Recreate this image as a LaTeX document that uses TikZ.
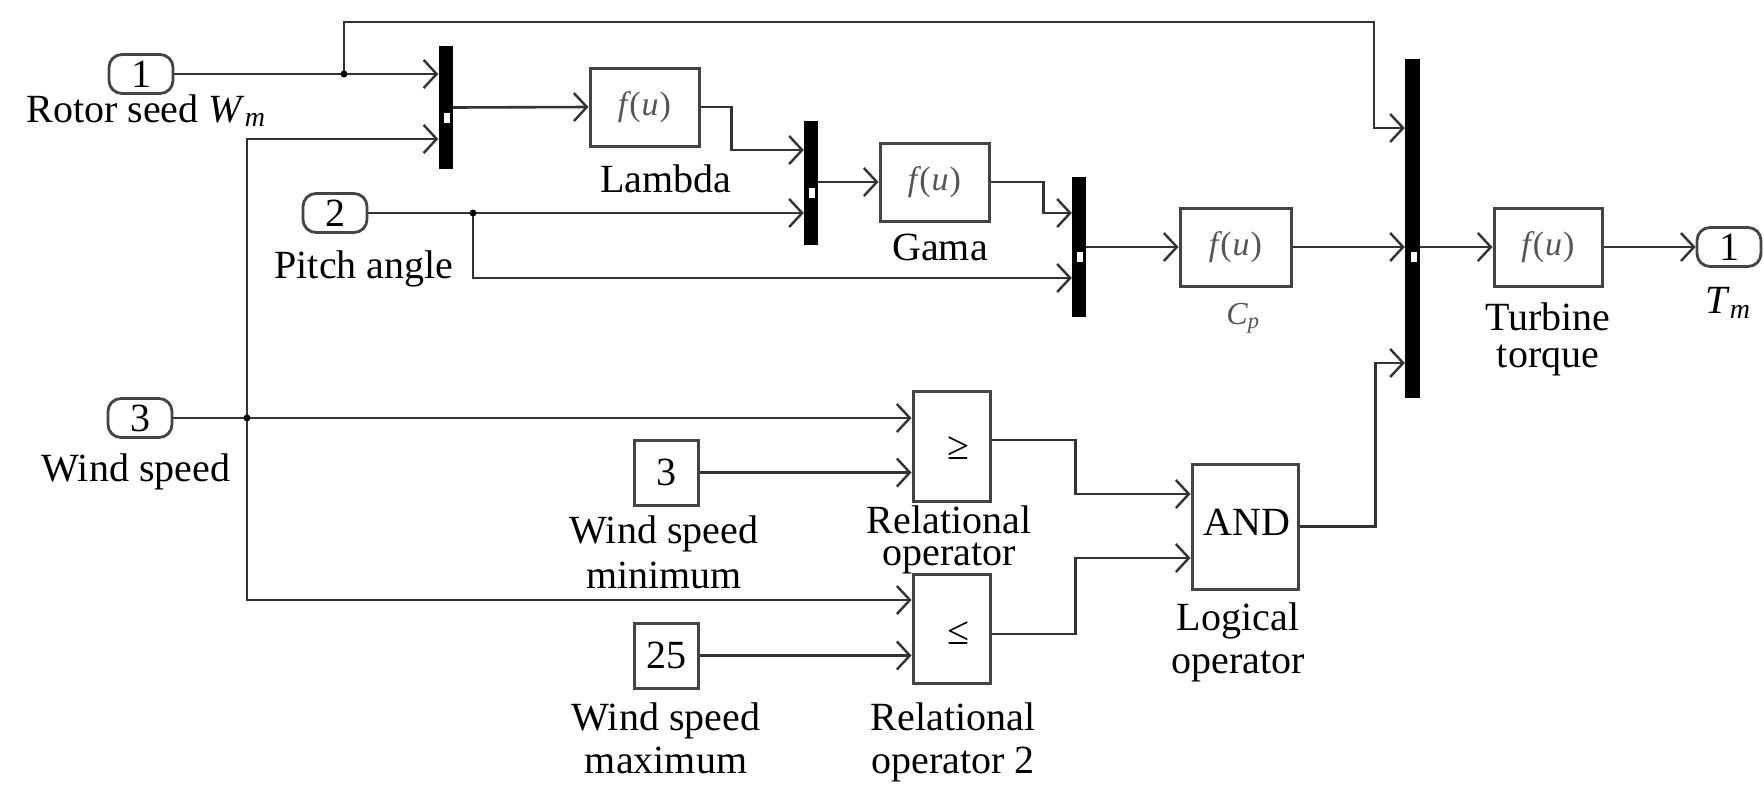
\documentclass[tikz,border=0pt]{standalone}
\usepackage{fontspec}
\setmainfont{Liberation Serif}
\usetikzlibrary{arrows.meta}
\definecolor{ln}{HTML}{333333}
\definecolor{bx}{HTML}{444444}
\definecolor{fu}{HTML}{555555}
\newcommand\lblfont{\rmfamily\fontsize{40}{43}\selectfont}
\newcommand\fufont{\rmfamily\fontsize{34}{36}\selectfont}
\newcommand\cpfont{\rmfamily\fontsize{32}{34}\selectfont}
\newcommand\fuval{\textit{f\kern2pt}(\kern1pt\textit{u}\kern1pt)}
\newcommand\ssub[2]{\textit{#1}\textsubscript{\textit{#2}}}
\begin{document}
\begin{tikzpicture}[x=1pt,y=-1pt,
  wire/.style={draw=ln, line width=2.6pt},
  arr/.style={wire, -{Straight Barb[length=13pt,width=28pt,line width=2.4pt]}},
  port/.style={draw=bx, line width=2.8pt, rounded corners=13pt, minimum width=64pt, minimum height=39pt, inner sep=0pt, font=\lblfont},
  blk/.style={draw=bx, line width=3pt, inner sep=0pt, fill=white},
  fblk/.style={blk, minimum width=109pt, minimum height=78pt, font=\fufont, text=fu},
  muxbar/.style={fill=black, draw=none, minimum width=14pt, inner sep=0pt},
  lbl/.style={anchor=base, inner sep=0pt, font=\lblfont},
  dot/.style={fill=black}]
\fill[white] (0,0) rectangle (1764,785);
\useasboundingbox (0,0) rectangle (1764,785);

% ports
\node[port] (in1) at (141,74) {1};
\node[port] (in2) at (335,213) {2};
\node[port] (in3) at (140,418) {3};
\node[port] (out1) at (1729,247) {1};

% mux bars
\node[muxbar, minimum height=123pt] (mux1) at (445.5,107.5) {};
\node[muxbar, minimum height=124pt] (mux2) at (811,183) {};
\node[muxbar, minimum height=140pt] (mux3) at (1079,247) {};
\node[muxbar, minimum height=339pt, minimum width=15pt] (mux4) at (1412.5,228.5) {};

% function blocks
\node[fblk] (lam) at (644.5,107) {\fuval};
\node[fblk] (gam) at (934.5,182) {\fuval};
\node[fblk, minimum width=111pt] (cp) at (1235.5,247) {\fuval};
\node[fblk, minimum width=108pt] (tt) at (1548,247) {\fuval};

% constants, relational and logical operators
\node[blk, minimum width=64pt, minimum height=65pt, font=\lblfont] (c3) at (666,472.5) {3};
\node[blk, minimum width=64pt, minimum height=65pt, font=\lblfont] (c25) at (666,655.5) {25};
\node[blk, minimum width=77pt, minimum height=110pt] (rel1) at (951.5,446) {};
\node[blk, minimum width=77pt, minimum height=109pt] (rel2) at (951.5,628.5) {};
\node[font=\lblfont, inner sep=0pt] (ge) at (958,448) {≥};
\node[font=\lblfont, inner sep=0pt] (le) at (958,633) {≤};
\node[blk, minimum width=106pt, minimum height=125pt] (and) at (1245,526.5) {};
\node[font=\lblfont, inner sep=0pt] (andt) at (1247,522) {AND};

% labels
\node[lbl] (lrotor) at (146,122) {Rotor seed \ssub{W}{m}};
\node[lbl] (lpitch) at (364,278) {Pitch angle};
\node[lbl] (lwind) at (136,481) {Wind speed};
\node[lbl] (llam) at (666,192) {Lambda};
\node[lbl] (lgam) at (940,260) {Gama};
\node[font=\cpfont, inner sep=0pt, text=fu] (lcp) at (1243,318) {\ssub{C}{p}};
\node[lbl] (ltt1) at (1548,330) {Turbine};
\node[lbl] (ltt2) at (1548,367) {torque};
\node[font=\lblfont, inner sep=0pt] (ltm) at (1728,303) {\ssub{T}{m}};
\node[lbl] (lmin1) at (664,543) {Wind speed};
\node[lbl] (lmin2) at (664,588) {minimum};
\node[lbl] (lmax1) at (666,730) {Wind speed};
\node[lbl] (lmax2) at (666,773) {maximum};
\node[lbl] (lr11) at (949,533) {Relational};
\node[lbl] (lr12) at (949,565) {operator};
\node[lbl] (lr21) at (953,730) {Relational};
\node[lbl] (lr22) at (953,773) {operator 2};
\node[lbl] (llo1) at (1238,630) {Logical};
\node[lbl] (llo2) at (1238,673) {operator};

% coordinates
\coordinate (j1) at (344,74);
\coordinate (j2) at (473,213);
\coordinate (j3) at (247,418);
\coordinate (t1) at (1374,22);
\coordinate (m4a) at (mux4.west |- 0,128);
\coordinate (m4c) at (mux4.west |- 0,363);

% connectors
\draw[arr] (in1.east) -- (mux1.west |- in1.east);
\draw[arr] (j1) |- (t1) |- (m4a);
\draw[arr] (mux1.east) -- (lam.west);
\draw[arr] (j3) |- (mux1.west |- 0,139);
\draw[arr] (in3.east) -- (rel1.west |- in3.east);
\draw[arr] (j3) |- (rel2.west |- 0,600);
\draw[arr] (lam.east) -- ++(31,0) |- (mux2.west |- 0,150);
\draw[arr] (in2.east) -- (mux2.west |- in2.east);
\draw[arr] (j2) |- (mux3.west |- 0,278);
\draw[arr] (mux2.east |- gam.west) -- (gam.west);
\draw[arr] (gam.east) -- ++(53,0) |- (mux3.west |- 0,213);
\draw[arr] (mux3.east) -- (cp.west);
\draw[arr] (cp.east) -- (mux4.west |- cp.east);
\draw[arr] (mux4.east |- tt.west) -- (tt.west);
\draw[arr] (tt.east) -- (out1.west);
\draw[arr] (c3.east) -- (rel1.west |- c3.east);
\draw[arr] (c25.east) -- (rel2.west |- c25.east);
\draw[arr] (rel1.east |- 0,440) -- ++(84,0) |- (and.west |- 0,494);
\draw[arr] (rel2.east |- 0,634) -- ++(84,0) |- (and.west |- 0,558);
\draw[arr] (and.east) -- ++(76,0) |- (m4c);

% junction dots
\fill[dot] (j1) circle (3.5pt);
\fill[dot] (j2) circle (3.5pt);
\fill[dot] (j3) circle (3.5pt);

% mux output markers
\fill[white] ([xshift=-9pt,yshift=-5pt]mux1.east) rectangle ++(6,10);
\fill[white] ([xshift=-9pt,yshift=-5pt]mux2.east) rectangle ++(6,10);
\fill[white] ([xshift=-9pt,yshift=-5pt]mux3.east) rectangle ++(6,10);
\fill[white] ([xshift=-9pt,yshift=-5pt]mux4.east |- tt.west) rectangle ++(6,10);
\end{tikzpicture}
\end{document}
